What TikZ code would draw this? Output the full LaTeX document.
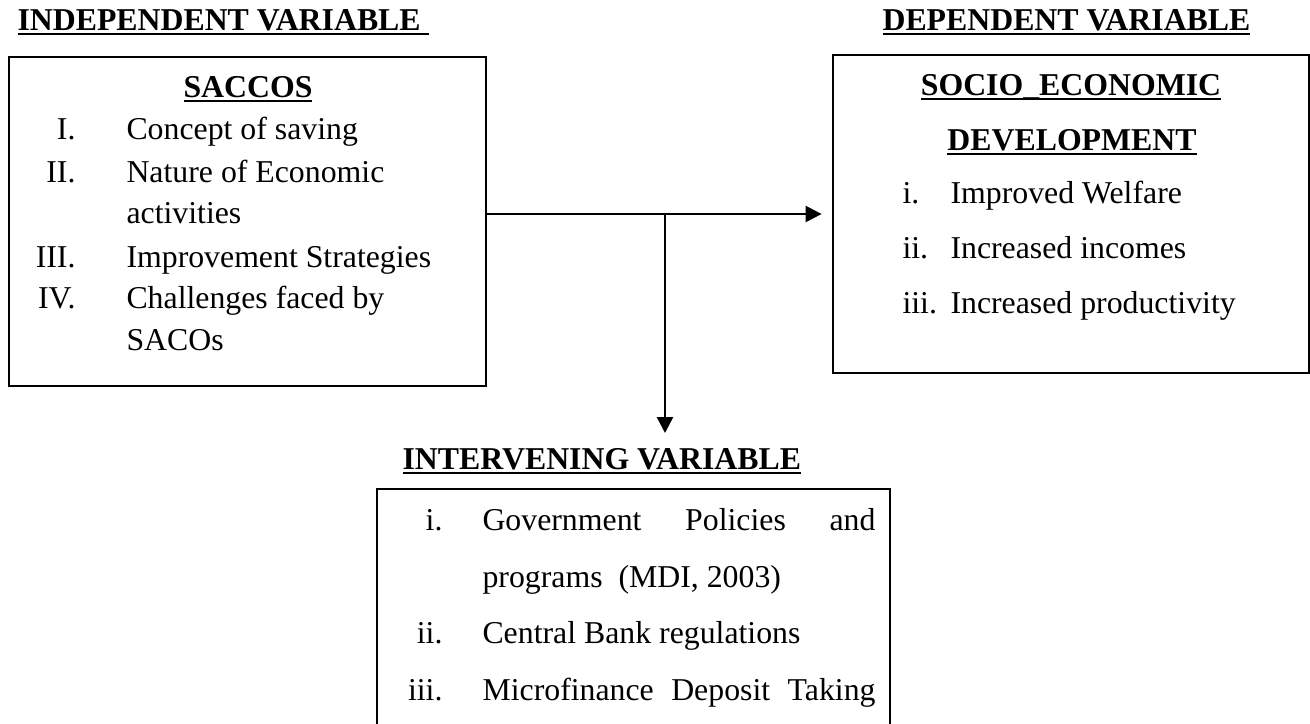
\documentclass[tikz,border=0pt]{standalone}
\usepackage{fontspec}
\setmainfont{Liberation Serif}
\usepackage{tikz}
\usetikzlibrary{arrows.meta}
\usetikzlibrary{fit}

\newcommand{\ulword}[1]{\setbox0=\hbox{#1}\rlap{\rule[-2.05pt]{\wd0}{1.1pt}}\box0}
\tikzset{
  box/.style={draw, line width=1pt, inner sep=0pt},
  head/.style={font=\fontsize{12}{14}\selectfont\bfseries, inner sep=0pt},
  item/.style={font=\fontsize{12}{14}\selectfont, inner sep=0pt, anchor=base west},
  flow/.style={line width=0.9pt, -{Triangle[length=6pt,width=6pt]}}
}

\begin{document}
\begin{tikzpicture}[x=0.3774pt, y=-0.3774pt]
\useasboundingbox (0,0) rectangle (1310,723);
\clip (0,0) rectangle (1310,723);

\node[head, anchor=base west] (indep) at (17,30) {\ulword{INDEPENDENT VARIABLE\ }};
\node[head, anchor=base west] (dep) at (882,30) {\ulword{DEPENDENT VARIABLE}};
\node[head, anchor=base west] (interv) at (402,469) {\ulword{INTERVENING VARIABLE}};

\node[box, fit={(9,57) (486,386)}] (saccos) {};
\node[head, anchor=base] (saccoshead) at (248,97) {\ulword{SACCOS}};
\foreach \num/\txt/\yy in {I./Concept of saving/139, II./Nature of Economic/182,
    /activities/223, III./Improvement Strategies/267, IV./Challenges faced by/308, /SACOs/350} {
  \node[item, anchor=base east] (sn\yy) at (76,\yy) {\num};
  \node[item] (st\yy) at (126,\yy) {\txt};
}

\node[box, fit={(833,55) (1309,373)}] (socio) {};
\node[head, anchor=base] (sociohead) at (1071,95) {\ulword{SOCIO\_ECONOMIC}};
\node[head, anchor=base] (devhead) at (1072,150) {\ulword{DEVELOPMENT}};
\foreach \num/\txt/\yy in {i./Improved Welfare/203, ii./Increased incomes/258, iii./Increased productivity/313} {
  \node[item] (dn\yy) at (902,\yy) {\num};
  \node[item] (dt\yy) at (950,\yy) {\txt};
}

\node[box, fit={(377,489) (890,760)}] (intbox) {};
\foreach \num/\txt/\yy in {i./{\makebox[148.3pt][s]{Government Policies and}}/530,
    /{programs\ \ (MDI, 2003)}/587, ii./Central Bank regulations/643,
    iii./{\makebox[148.3pt][s]{Microfinance Deposit Taking}}/700} {
  \node[item, anchor=base east] (in\yy) at (443,\yy) {\num};
  \node[item] (it\yy) at (482,\yy) {\txt};
}

\coordinate (junc) at (665,214);
\coordinate (drop) at (665,433);
\draw[flow, shorten >=3.8pt] (saccos.east |- socio.west) -- (socio.west);
\draw[flow] (junc) -- (drop);
\end{tikzpicture}
\end{document}
